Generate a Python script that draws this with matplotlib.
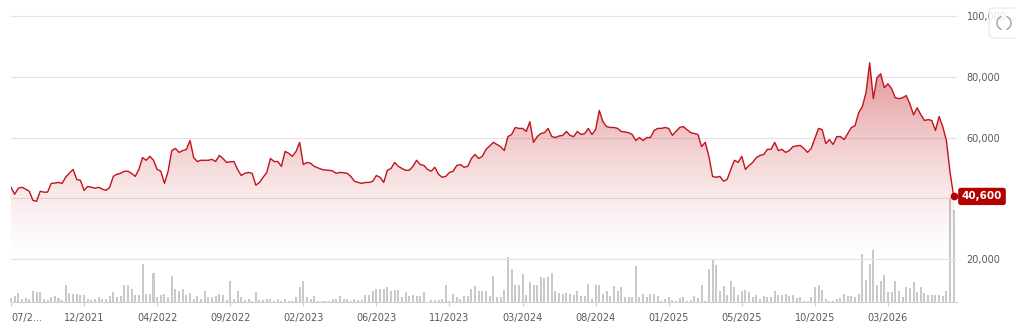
import numpy as np
import matplotlib.pyplot as plt
from matplotlib.patches import Polygon, FancyBboxPatch, Arc
from matplotlib.transforms import blended_transform_factory, IdentityTransform
from matplotlib.ticker import FuncFormatter

# weekly close, thousands
price = [
    43.6, 41.3, 43.3, 43.6, 43.0, 42.3, 39.3, 39.0, 42.3, 42.0,
    42.0, 44.9, 45.0, 45.2, 44.9, 47.0, 48.3, 49.5, 46.2, 45.9,
    42.6, 43.9, 43.6, 43.3, 43.6, 43.0, 42.6, 43.6, 47.2, 47.9,
    48.2, 48.9, 48.9, 48.2, 47.2, 49.5, 53.4, 52.5, 53.8, 52.5,
    49.5, 48.9, 44.9, 48.9, 55.7, 56.4, 55.1, 55.7, 56.1, 59.0,
    53.4, 52.1, 52.5, 52.5, 52.5, 52.8, 52.1, 54.1, 53.1, 51.8,
    52.0, 52.1, 49.5, 47.5, 48.2, 48.5, 48.2, 44.3, 45.2, 46.9,
    48.5, 53.1, 52.1, 52.1, 50.5, 55.4, 54.8, 53.8, 55.4, 58.4,
    51.1, 51.8, 51.5, 50.5, 50.0, 49.5, 49.3, 49.2, 49.0, 48.2,
    48.5, 48.4, 48.2, 47.2, 45.6, 45.2, 44.9, 45.2, 45.2, 45.6,
    47.5, 46.9, 45.2, 49.2, 49.8, 51.8, 50.5, 49.8, 49.2, 49.2,
    50.5, 52.5, 51.1, 50.8, 49.5, 48.9, 50.2, 47.9, 46.9, 47.2,
    48.5, 48.9, 50.8, 51.1, 50.2, 50.5, 53.1, 54.4, 53.1, 53.8,
    56.1, 57.2, 58.4, 57.7, 57.0, 55.7, 60.3, 61.0, 63.3, 63.0,
    63.0, 62.0, 65.2, 58.4, 60.3, 61.3, 61.6, 63.0, 60.3, 60.0,
    60.5, 60.7, 62.0, 60.7, 60.3, 62.0, 61.0, 61.3, 63.0, 61.0,
    62.6, 68.9, 65.2, 63.6, 63.3, 63.3, 63.0, 62.0, 61.8, 61.6,
    61.0, 59.0, 60.0, 59.0, 60.0, 60.0, 62.3, 63.0, 63.0, 63.3,
    63.0, 60.7, 62.0, 63.3, 63.6, 62.6, 61.6, 61.3, 61.0, 57.0,
    58.4, 53.8, 47.2, 46.9, 47.2, 45.6, 46.2, 49.5, 52.5, 51.8,
    53.8, 49.5, 50.8, 51.8, 53.4, 54.1, 54.4, 56.1, 56.1, 58.4,
    55.7, 56.1, 55.1, 55.7, 57.0, 57.2, 57.4, 56.4, 55.1, 56.4,
    59.7, 63.0, 62.6, 58.0, 59.3, 57.7, 60.3, 60.3, 59.3, 61.3,
    63.3, 63.9, 68.2, 70.2, 74.8, 84.6, 72.8, 79.7, 81.0, 76.4,
    77.7, 76.1, 73.1, 72.8, 73.1, 73.8, 71.1, 67.5, 69.8, 67.5,
    65.6, 65.9, 65.6, 62.3, 66.9, 63.6, 59.0, 48.5, 40.6,
]

# weekly volume, relative units
volume = [
    4, 5.7, 9, 3.3, 4, 3.3, 11.3, 10.3, 10.3, 3.3,
    2.3, 5, 6, 4.3, 2.3, 17.3, 9, 8.3, 8.3, 7.3,
    7.3, 3, 2.3, 3, 5.3, 3, 2.7, 6.3, 10.3, 5.3,
    6.3, 16.7, 16.7, 13.3, 7, 7, 38.3, 8, 8.3, 29,
    4.7, 6.7, 8.3, 4.7, 26.3, 13.3, 11.3, 13.3, 6.7, 9,
    3.3, 6.3, 3.3, 11.3, 4.7, 4.7, 6, 8.3, 6.7, 1.7,
    21.3, 3.3, 11.3, 4.7, 1.7, 3.3, 1.5, 9.7, 2.3, 1.7,
    2.7, 3.3, 1.3, 3, 1.3, 3.3, 1.3, 1.3, 5.3, 14.7,
    21.3, 4.7, 3.3, 5.7, 1.3, 1.3, 1.3, 0.8, 3.3, 3.3,
    5.7, 3.3, 3.3, 1.3, 3.3, 2.3, 2.3, 7.3, 6.7, 10.7,
    13.3, 13, 13.3, 14.7, 10.7, 12.3, 12.3, 5, 10, 5.7,
    7.3, 6.3, 6.3, 9.7, 0.5, 1.7, 2.3, 2.3, 3.3, 17.3,
    1.3, 8.3, 5, 3, 5.7, 5.7, 13.3, 15.7, 11.3, 10.7,
    10.7, 5.7, 26.3, 4.7, 4.7, 12.3, 44.7, 33.3, 16.7, 16.7,
    28.3, 7.3, 20, 17.3, 16.7, 24.7, 24, 24.7, 29, 11.3,
    9, 8.3, 9, 8.3, 7.3, 11.3, 6.3, 5.7, 18.3, 3.3,
    17.3, 16.7, 8.3, 11.3, 5.7, 16.3, 10.7, 14.7, 4.7, 4.7,
    4.7, 36.3, 4.7, 8.3, 5, 8.3, 8, 6.3, 1.3, 3.3,
    4.7, 2.3, 1, 4, 5, 1.3, 2.3, 5.7, 4, 17.3,
    0.7, 33.3, 42.3, 37.3, 10.7, 15.7, 6.7, 20.7, 14.7, 6.7,
    10.7, 12.3, 9.7, 4.7, 7.3, 3.3, 6.3, 4.7, 4.7, 11.3,
    7.3, 7.3, 8.3, 6.3, 7.3, 4, 4.7, 1.3, 0.7, 4.7,
    14.7, 17.3, 12.3, 3, 1.3, 0.7, 3.3, 4, 8.3, 5.7,
    5.7, 4.7, 8, 48.3, 22.3, 38.3, 52.3, 17.3, 20.7, 27.3,
    10, 10, 21.3, 10.7, 4.7, 14.7, 14, 20, 9.7, 14.7,
    9, 7.3, 6.7, 7.3, 6.7, 5.7, 11.3, 103, 91.7,
]

tick_idx = [0, 20, 40, 60, 80, 100, 120, 140, 160, 180, 200, 220, 240]
tick_labels = ['07/2...', '12/2021', '04/2022', '09/2022', '02/2023', '06/2023',
               '11/2023', '03/2024', '08/2024', '01/2025', '05/2025', '10/2025', '03/2026']
grid_levels = [20000, 40000, 60000, 80000, 100000]
price_ticks = [20000, 60000, 80000, 100000]   # 40,000 sits under the price tag
last_label = '40,600'

W, H = 1016, 333
RED = '#c0141c'

p = np.array(price) * 1000
x = np.arange(len(p))
ybot, ytop = 5840, 101980
xmax = 258.9

fig = plt.figure(figsize=(W / 100, H / 100), dpi=100)
pos = [11 / W, (H - 302) / H, (957 - 11) / W, (302 - 10) / H]

# volume axes underneath
axv = fig.add_axes(pos)
axv.set_xlim(0, xmax)
axv.set_ylim(0, 292)
axv.bar(x, volume, width=0.55, color='#c9c9c9', zorder=2, clip_on=False)
axv.axis('off')

ax = fig.add_axes(pos)
ax.patch.set_visible(False)
ax.set_xlim(0, xmax)
ax.set_ylim(ybot, ytop)

for t in grid_levels:
    ax.axhline(t, color='#e2e2e2', lw=0.8, zorder=0)

# gradient fill under the line
verts = [(0, ybot)] + list(zip(x, p)) + [(x[-1], ybot)]
poly = Polygon(verts, closed=True, facecolor='none', edgecolor='none')
ax.add_patch(poly)
yy = np.linspace(ybot, ytop, 400)
a = 0.45 * np.clip((yy - 18000) / (85000 - 18000), 0, 1) ** 1.5
img = np.zeros((len(yy), 1, 4))
img[:, 0, 0] = 0.75
img[:, 0, 1] = 0.05
img[:, 0, 2] = 0.08
img[:, 0, 3] = a
im = ax.imshow(img, extent=[0, x[-1], ybot, ytop], origin='lower',
               aspect='auto', zorder=1)
im.set_clip_path(poly)
ax.set_xlim(0, xmax)
ax.set_ylim(ybot, ytop)

ax.plot(x, p, color=RED, lw=1.0, zorder=4)
ax.plot(x[-1], p[-1], 'o', ms=4.5, color='#b00000', zorder=5, clip_on=False)

# axes styling
for s in ['top', 'left', 'right']:
    ax.spines[s].set_visible(False)
ax.spines['bottom'].set_color('#d0d0d0')
ax.spines['bottom'].set_linewidth(0.8)

ax.set_xticks(tick_idx)
ax.set_xticklabels(tick_labels)
ax.get_xticklabels()[0].set_ha('left')
ax.tick_params(axis='x', length=3, color='#d0d0d0', labelsize=7,
               labelcolor='#595959', pad=5)

ax.yaxis.tick_right()
ax.set_yticks(price_ticks)
ax.yaxis.set_major_formatter(FuncFormatter(lambda v, _: f'{int(v):,}'))
ax.tick_params(axis='y', length=0, labelsize=7, labelcolor='#595959', pad=7)
for lab in ax.get_yticklabels():
    lab.set_ha('left')

# last price tag
tr = blended_transform_factory(ax.transAxes, ax.transData)
ax.text((982 - 11) / 946, p[-1], last_label, transform=tr, ha='center', va='center',
        color='white', fontsize=7.5, fontweight='bold', zorder=10, clip_on=False,
        bbox=dict(boxstyle='round,pad=0.35,rounding_size=0.25', fc='#b30000', ec='none'))

# expand button in the corner
btn = FancyBboxPatch((989, H - 38), 40, 30, boxstyle='round,pad=0,rounding_size=5',
                     fc='white', ec='#e3e3e3', lw=0.8, alpha=0.85,
                     transform=IdentityTransform(), zorder=20)
fig.patches.append(btn)
for t1, t2 in [(110, 250), (-70, 70)]:
    arc = Arc((1004, H - 23), 14, 14, theta1=t1, theta2=t2, color='#a0a0a0', lw=1,
              transform=IdentityTransform(), zorder=21)
    fig.patches.append(arc)

fig.savefig('out.png', dpi=100)
